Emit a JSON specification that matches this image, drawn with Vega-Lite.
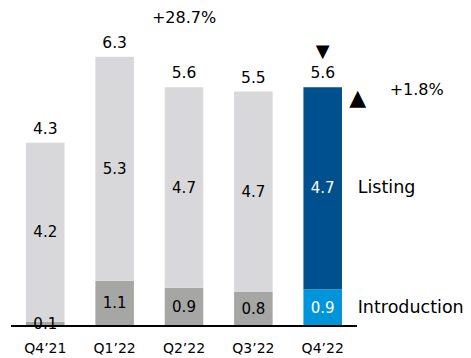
{
  "$schema": "https://vega.github.io/schema/vega-lite/v6.json",
  "width": 346,
  "height": 326,
  "autosize": {"type": "none"},
  "padding": {"left": 11, "top": 0, "right": 114, "bottom": 32},
  "background": "white",
  "config": {
    "view": {"stroke": null},
    "font": "DejaVu Sans",
    "text": {"font": "DejaVu Sans", "color": "black"}
  },
  "data": {
    "values": [
      {"quarter": "Q4’21", "segment": "Introduction", "value": 0.1},
      {"quarter": "Q4’21", "segment": "Listing", "value": 4.2},
      {"quarter": "Q1’22", "segment": "Introduction", "value": 1.06},
      {"quarter": "Q1’22", "segment": "Listing", "value": 5.26},
      {"quarter": "Q2’22", "segment": "Introduction", "value": 0.9},
      {"quarter": "Q2’22", "segment": "Listing", "value": 4.7},
      {"quarter": "Q3’22", "segment": "Introduction", "value": 0.8},
      {"quarter": "Q3’22", "segment": "Listing", "value": 4.7},
      {"quarter": "Q4’22", "segment": "Introduction", "value": 0.86},
      {"quarter": "Q4’22", "segment": "Listing", "value": 4.74}
    ]
  },
  "layer": [
    {
      "mark": {"type": "bar"},
      "encoding": {
        "x": {
          "field": "quarter",
          "type": "nominal",
          "sort": null,
          "scale": {
            "domain": ["Q4’21", "Q1’22", "Q2’22", "Q3’22", "Q4’22"],
            "paddingInner": 0.444,
            "paddingOuter": 0.2165
          },
          "axis": {
            "title": null,
            "labelAngle": 0,
            "domain": false,
            "ticks": false,
            "labelFontSize": 14,
            "labelColor": "black",
            "labelFont": "DejaVu Sans",
            "labelPadding": 15
          }
        },
        "y": {
          "field": "value",
          "type": "quantitative",
          "stack": "zero",
          "scale": {"domain": [0, 7.65], "nice": false},
          "axis": null
        },
        "detail": {"field": "segment", "type": "nominal"},
        "order": {"field": "segment", "type": "nominal", "sort": "ascending"},
        "color": {
          "condition": [
            {"test": "datum.quarter === 'Q4’22' && datum.segment === 'Listing'", "value": "#00508f"},
            {"test": "datum.quarter === 'Q4’22'", "value": "#0095d8"},
            {"test": "datum.segment === 'Listing'", "value": "#d8d8da"}
          ],
          "value": "#a6a6a5"
        }
      }
    },
    {
      "data": {"values": [{"level": 0}]},
      "mark": {"type": "rule", "strokeWidth": 2, "color": "black"},
      "encoding": {"y": {"field": "level", "type": "quantitative"}}
    },
    {
      "mark": {"type": "text", "fontSize": 15, "baseline": "middle"},
      "encoding": {
        "x": {"field": "quarter", "type": "nominal"},
        "y": {"field": "value", "type": "quantitative", "stack": "zero", "bandPosition": 0.5},
        "detail": {"field": "segment", "type": "nominal"},
        "order": {"field": "segment", "type": "nominal", "sort": "ascending"},
        "text": {"field": "value", "type": "quantitative", "format": ".1f"},
        "color": {
          "condition": {"test": "datum.quarter === 'Q4’22'", "value": "white"},
          "value": "black"
        }
      }
    },
    {
      "transform": [
        {"aggregate": [{"op": "sum", "field": "value", "as": "total"}], "groupby": ["quarter"]}
      ],
      "mark": {"type": "text", "fontSize": 15.5, "baseline": "alphabetic", "dy": -9},
      "encoding": {
        "x": {"field": "quarter", "type": "nominal"},
        "y": {"field": "total", "type": "quantitative"},
        "text": {"field": "total", "type": "quantitative", "format": ".1f"}
      }
    },
    {
      "transform": [{"filter": "datum.quarter === 'Q4’22'"}],
      "mark": {"type": "text", "fontSize": 17.5, "baseline": "middle", "align": "left", "dx": 35},
      "encoding": {
        "x": {"field": "quarter", "type": "nominal"},
        "y": {"field": "value", "type": "quantitative", "stack": "zero", "bandPosition": 0.5},
        "detail": {"field": "segment", "type": "nominal"},
        "order": {"field": "segment", "type": "nominal", "sort": "ascending"},
        "text": {"field": "segment", "type": "nominal"}
      }
    },
    {
      "transform": [
        {"filter": "datum.quarter === 'Q4’22'"},
        {"aggregate": [{"op": "sum", "field": "value", "as": "total"}], "groupby": ["quarter"]}
      ],
      "mark": {"type": "text", "fontSize": 16, "baseline": "middle", "dx": 94, "dy": 3},
      "encoding": {
        "x": {"field": "quarter", "type": "nominal"},
        "y": {"field": "total", "type": "quantitative"},
        "text": {"value": "+1.8%"}
      }
    },
    {
      "transform": [
        {"filter": "datum.quarter === 'Q4’22'"},
        {"aggregate": [{"op": "sum", "field": "value", "as": "total"}], "groupby": ["quarter"]}
      ],
      "mark": {"type": "text", "fontSize": 22, "baseline": "alphabetic", "dx": 35, "dy": 18},
      "encoding": {
        "x": {"field": "quarter", "type": "nominal"},
        "y": {"field": "total", "type": "quantitative"},
        "text": {"value": "▲"}
      }
    },
    {
      "transform": [
        {"filter": "datum.quarter === 'Q4’22'"},
        {"aggregate": [{"op": "sum", "field": "value", "as": "total"}], "groupby": ["quarter"]}
      ],
      "mark": {"type": "text", "fontSize": 18, "baseline": "alphabetic", "dy": -30},
      "encoding": {
        "x": {"field": "quarter", "type": "nominal"},
        "y": {"field": "total", "type": "quantitative"},
        "text": {"value": "▼"}
      }
    },
    {
      "transform": [
        {"filter": "datum.quarter === 'Q2’22'"},
        {"aggregate": [{"op": "sum", "field": "value", "as": "total"}], "groupby": ["quarter"]}
      ],
      "mark": {"type": "text", "fontSize": 16, "baseline": "middle", "dy": -69},
      "encoding": {
        "x": {"field": "quarter", "type": "nominal"},
        "y": {"field": "total", "type": "quantitative"},
        "text": {"value": "+28.7%"}
      }
    }
  ]
}
